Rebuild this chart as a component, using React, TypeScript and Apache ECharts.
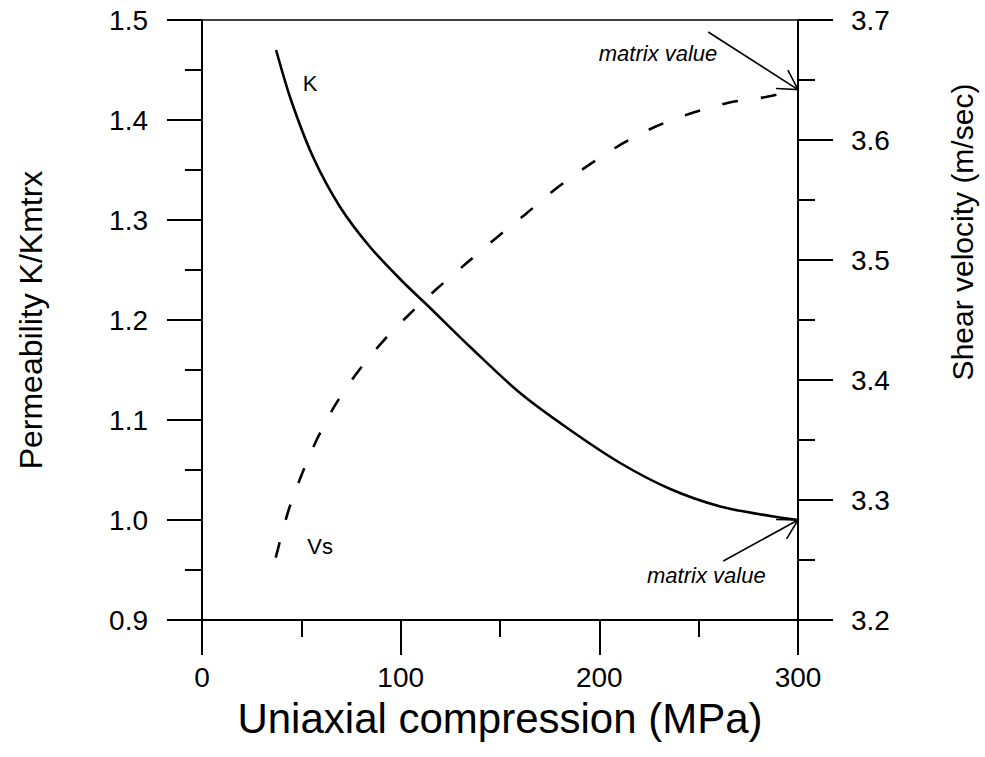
import React, { useEffect, useRef } from "react";
import * as echarts from "echarts";

// Uniaxial compression (MPa) for the permeability curve K/Kmtrx
const kPressure = [37.3, 44.8, 55.9, 69.5, 84.6, 101.2, 113.3, 135.0, 160.1, 185.3, 210.5, 235.7, 260.9, 286.1, 300];
const kValues = [1.470, 1.420, 1.363, 1.313, 1.273, 1.238, 1.215, 1.173, 1.127, 1.090, 1.057, 1.031, 1.0135, 1.004, 1.0];

// Uniaxial compression (MPa) for the shear velocity curve Vs
const vsPressure = [37.1, 43.3, 49.9, 57.4, 67.0, 77.6, 90.4, 103.9, 118.2, 132.9, 147.8, 162.7, 177.8, 193.7, 210.5, 228.1, 245.8, 265.0, 284.4, 300];
const vsValues = [3.252, 3.290, 3.320, 3.349, 3.379, 3.405, 3.431, 3.454, 3.476, 3.497, 3.518, 3.538, 3.559, 3.578, 3.596, 3.611, 3.622, 3.631, 3.636, 3.642];

// Axis ranges / ticks
const xRange = [0, 300];
const xInterval = 100;
const kRange = [0.9, 1.5];
const vsRange = [3.2, 3.7];
const yInterval = 0.1;

// Annotation arrows: [tailX, tailY, tipX, tipY, yAxisIndex]
const arrows = [
  [254.8, 3.690, 300, 3.642, 1],
  [262.4, 0.959, 300, 1.0, 0],
];

// Text annotations: [x, y, yAxisIndex, text, align, italic]
const notes: [number, number, number, string, string, boolean][] = [
  [50.7, 1.437, 0, "K", "left", false],
  [53.0, 3.261, 1, "Vs", "left", false],
  [259.4, 3.672, 1, "matrix value", "right", true],
  [283.7, 0.945, 0, "matrix value", "right", true],
];

const FONT = "'Liberation Sans', Arial, Helvetica, sans-serif";

export default function App() {
  const ref = useRef<HTMLDivElement>(null);

  useEffect(() => {
    if (!ref.current) return;
    const chart = echarts.init(ref.current, undefined, { renderer: "svg" });

    const axisCommon = {
      axisLine: { show: true, onZero: false, lineStyle: { color: "#000", width: 2 } },
      axisTick: { show: true, inside: false, length: 35, lineStyle: { color: "#000", width: 2 } },
      minorTick: { show: true, splitNumber: 2, length: 17, lineStyle: { color: "#000", width: 2 } },
      splitLine: { show: false },
      minorSplitLine: { show: false },
    };

    function arrowRender(params: any, api: any) {
      const tail = api.coord([api.value(0), api.value(1)]);
      const tip = api.coord([api.value(2), api.value(3)]);
      const dx = tail[0] - tip[0];
      const dy = tail[1] - tip[1];
      const ang = Math.atan2(dy, dx);
      const len = 22;
      const spread = (30 * Math.PI) / 180;
      const b1 = [tip[0] + len * Math.cos(ang + spread), tip[1] + len * Math.sin(ang + spread)];
      const b2 = [tip[0] + len * Math.cos(ang - spread), tip[1] + len * Math.sin(ang - spread)];
      const style = { stroke: "#000", lineWidth: 1.6, fill: "none" };
      return {
        type: "group",
        children: [
          { type: "line", shape: { x1: tail[0], y1: tail[1], x2: tip[0], y2: tip[1] }, style },
          { type: "polyline", shape: { points: [b1, tip, b2] }, style },
        ],
      };
    }

    function noteRender(params: any, api: any, list: any[]) {
      const n = list[params.dataIndex];
      const p = api.coord([api.value(0), api.value(1)]);
      return {
        type: "text",
        x: p[0],
        y: p[1],
        style: {
          text: n[3],
          fill: "#000",
          font: `${n[5] ? "italic " : ""}22px ${FONT}`,
          align: n[4],
          verticalAlign: "middle",
        },
      };
    }

    const notesK = notes.filter((n) => n[2] === 0);
    const notesVs = notes.filter((n) => n[2] === 1);

    const option: any = {
      animation: false,
      backgroundColor: "#fff",
      textStyle: { fontFamily: FONT },
      grid: {
        left: 202,
        right: 187,
        top: 20,
        bottom: 137,
        show: true,
        borderColor: "#000",
        borderWidth: 1.5,
        backgroundColor: "transparent",
      },
      xAxis: {
        type: "value",
        min: xRange[0],
        max: xRange[1],
        interval: xInterval,
        ...axisCommon,
        axisLabel: { color: "#000", fontSize: 28, margin: 43, fontFamily: FONT },
        name: "Uniaxial compression (MPa)",
        nameLocation: "middle",
        nameGap: 77,
        nameTextStyle: { color: "#000", fontSize: 42, fontFamily: FONT },
      },
      yAxis: [
        {
          type: "value",
          position: "left",
          min: kRange[0],
          max: kRange[1],
          interval: yInterval,
          ...axisCommon,
          axisLabel: {
            color: "#000",
            fontSize: 28,
            margin: 54,
            fontFamily: FONT,
            formatter: (v: number) => v.toFixed(1),
          },
          name: "Permeability K/Kmtrx",
          nameLocation: "middle",
          nameRotate: 90,
          nameGap: 155,
          nameTextStyle: { color: "#000", fontSize: 32, fontFamily: FONT },
        },
        {
          type: "value",
          position: "right",
          min: vsRange[0],
          max: vsRange[1],
          interval: yInterval,
          ...axisCommon,
          axisLabel: {
            color: "#000",
            fontSize: 28,
            margin: 53,
            fontFamily: FONT,
            formatter: (v: number) => v.toFixed(1),
          },
          name: "Shear velocity (m/sec)",
          nameLocation: "middle",
          nameRotate: 90,
          nameGap: 149,
          nameTextStyle: { color: "#000", fontSize: 30, fontFamily: FONT, padding: [0, 0, 0, 176] },
        },
      ],
      series: [
        {
          name: "K",
          type: "line",
          yAxisIndex: 0,
          data: kPressure.map((x, i) => [x, kValues[i]]),
          smooth: 0.3,
          showSymbol: false,
          symbol: "none",
          lineStyle: { color: "#000", width: 2.6 },
        },
        {
          name: "Vs",
          type: "line",
          yAxisIndex: 1,
          data: vsPressure.map((x, i) => [x, vsValues[i]]),
          smooth: 0.3,
          showSymbol: false,
          symbol: "none",
          lineStyle: { color: "#000", width: 2.6, type: [16, 23] },
        },
        {
          name: "arrowsK",
          type: "custom",
          yAxisIndex: 0,
          data: arrows.filter((a) => a[4] === 0),
          renderItem: arrowRender,
          silent: true,
        },
        {
          name: "arrowsVs",
          type: "custom",
          yAxisIndex: 1,
          data: arrows.filter((a) => a[4] === 1),
          renderItem: arrowRender,
          silent: true,
        },
        {
          name: "notesK",
          type: "custom",
          yAxisIndex: 0,
          data: notesK.map((n) => [n[0], n[1]]),
          renderItem: (params: any, api: any) => noteRender(params, api, notesK),
          silent: true,
        },
        {
          name: "notesVs",
          type: "custom",
          yAxisIndex: 1,
          data: notesVs.map((n) => [n[0], n[1]]),
          renderItem: (params: any, api: any) => noteRender(params, api, notesVs),
          silent: true,
        },
      ],
    };

    chart.setOption(option);
    return () => chart.dispose();
  }, []);

  return (
    <div
      ref={ref}
      style={{ position: "fixed", left: 0, top: 0, width: 985, height: 757, background: "#fff" }}
    />
  );
}
